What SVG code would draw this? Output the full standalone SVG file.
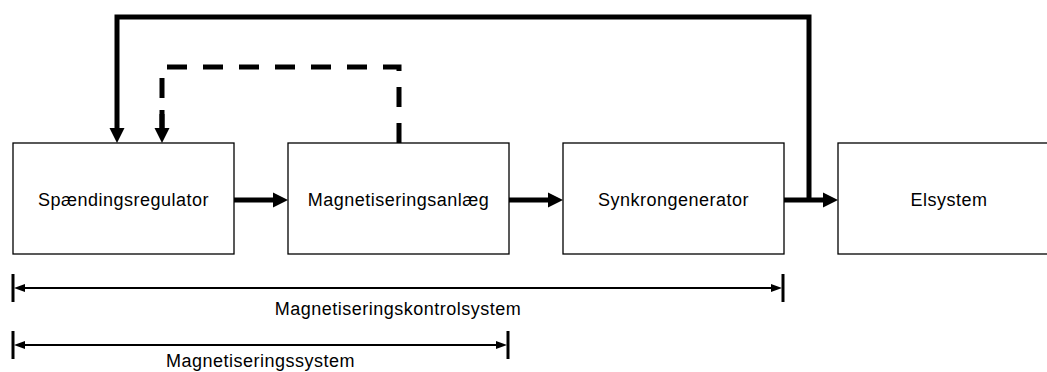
<svg xmlns="http://www.w3.org/2000/svg" width="1047" height="372" viewBox="0 0 1047 372">
<style>
.box{fill:#fff;stroke:#000;stroke-width:1.3}
.lbl{font-family:"Liberation Sans",Arial,sans-serif;font-size:18px;letter-spacing:0.5px;fill:#000;text-anchor:middle}
.thick{fill:none;stroke:#000;stroke-width:5}
.dash{fill:none;stroke:#000;stroke-width:5;stroke-dasharray:20 16}
.dim{fill:none;stroke:#000;stroke-width:2}
.tick{stroke:#000;stroke-width:3}
</style>
<defs>
<marker id="ah" markerUnits="userSpaceOnUse" markerWidth="16" markerHeight="16" viewBox="0 0 15 16" refX="0" refY="8" orient="auto">
<path d="M0,0.5 L15,8 L0,15.5 Z" fill="#000"/>
</marker>
<marker id="dh" markerUnits="userSpaceOnUse" markerWidth="11" markerHeight="10" viewBox="0 0 11 10" refX="0" refY="5" orient="auto">
<path d="M0,1 L11,5 L0,9 Z" fill="#000"/>
</marker>
</defs>
<g id="node-spaendingsregulator">
<rect class="box" x="13" y="143" width="221" height="111"/>
<text class="lbl" x="123.5" y="206">Spændingsregulator</text>
</g>
<g id="node-magnetiseringsanlaeg">
<rect class="box" x="288" y="143" width="221" height="111"/>
<text class="lbl" x="398.5" y="206">Magnetiseringsanlæg</text>
</g>
<g id="node-synkrongenerator">
<rect class="box" x="563" y="143" width="221" height="111"/>
<text class="lbl" x="673.5" y="206">Synkrongenerator</text>
</g>
<g id="node-elsystem">
<rect class="box" x="838" y="143" width="222" height="111"/>
<text class="lbl" x="949" y="206">Elsystem</text>
</g>
<g id="connectors">
<path class="thick" d="M234,200 H273" marker-end="url(#ah)"/>
<path class="thick" d="M509,200 H548" marker-end="url(#ah)"/>
<path class="thick" d="M784,200 H823" marker-end="url(#ah)"/>
<path class="thick" d="M809,200 V17 H117 V128" marker-end="url(#ah)"/>
<path class="dash" d="M399,143 V67 H162 V128"/>
<path d="M162,110 V128" class="thick" marker-end="url(#ah)"/>
</g>
<g id="dimension-magnetiseringskontrolsystem">
<line class="tick" x1="13" y1="274" x2="13" y2="302"/>
<line class="tick" x1="783" y1="274" x2="783" y2="302"/>
<path class="dim" d="M25,288 H771" marker-end="url(#dh)"/>
<path class="dim" d="M771,288 H25" marker-end="url(#dh)"/>
<text class="lbl" x="398" y="315">Magnetiseringskontrolsystem</text>
</g>
<g id="dimension-magnetiseringssystem">
<line class="tick" x1="13" y1="331" x2="13" y2="359"/>
<line class="tick" x1="508" y1="331" x2="508" y2="359"/>
<path class="dim" d="M25,345 H496" marker-end="url(#dh)"/>
<path class="dim" d="M496,345 H25" marker-end="url(#dh)"/>
<text class="lbl" x="260.5" y="367">Magnetiseringssystem</text>
</g>
</svg>
